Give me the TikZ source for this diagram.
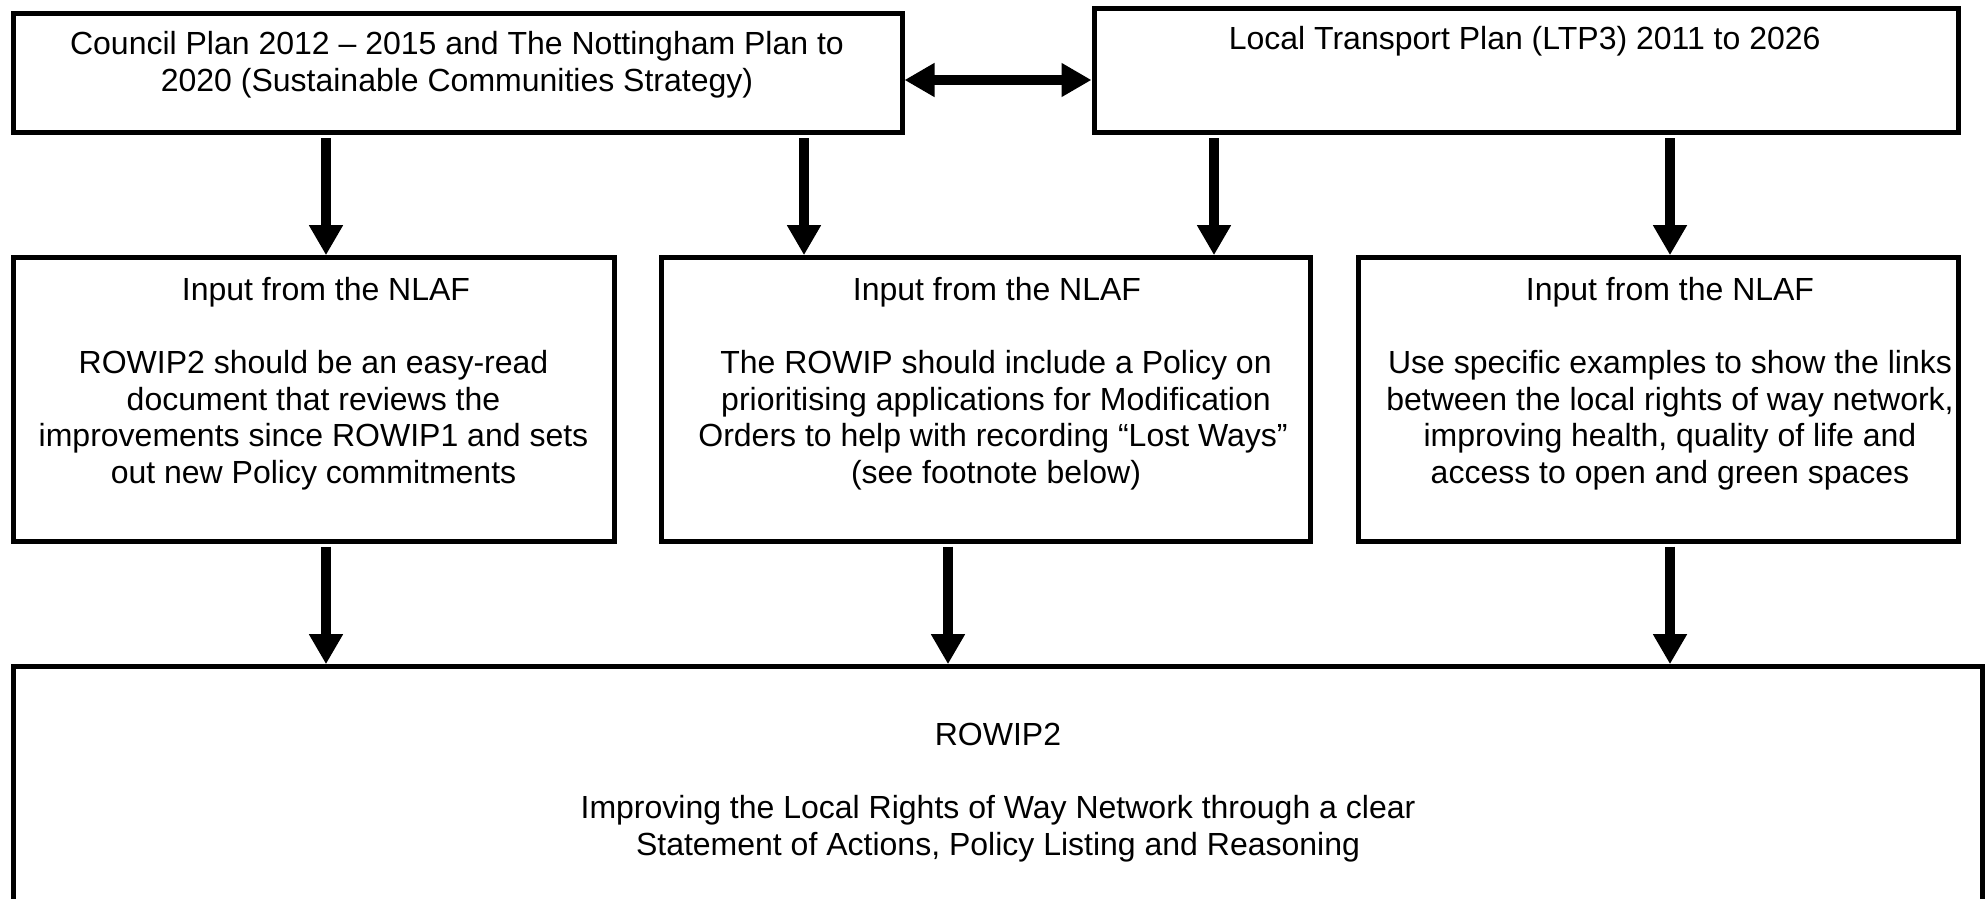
\documentclass[tikz,border=0pt]{standalone}
\usepackage{fontspec}
\setmainfont{Liberation Sans}
\usetikzlibrary{arrows.meta}
\begin{document}
\begin{tikzpicture}[x=0.5pt,y=-0.5pt,
  box/.style={draw=black, line width=2.5pt, inner sep=0pt, rectangle},
  arr/.style={line width=5pt, -{Triangle[length=15pt,width=16pt]}, shorten <=1.5pt},
  dblarr/.style={line width=5pt, {Triangle[length=15pt,width=16pt]}-{Triangle[length=15pt,width=16pt]}},
  txt/.style={anchor=base, inner sep=0pt, font=\fontsize{16pt}{18.35pt}\selectfont}]
\useasboundingbox (0,0) rectangle (1988,899);

% boxes
\node[box, minimum width=444.25pt, minimum height=59.75pt] (tl) at (457.75,73.25) {};
\node[box, minimum width=432.35pt, minimum height=62.1pt] (tr) at (1526.35,70.6) {};
\node[box, minimum width=300.35pt, minimum height=141.65pt] (ba) at (313.65,399.35) {};
\node[box, minimum width=324.5pt, minimum height=141.65pt] (bb) at (985.5,399.35) {};
\node[box, minimum width=300.35pt, minimum height=141.65pt] (bc) at (1658.35,399.35) {};
\node[box, minimum width=984.35pt, minimum height=118.15pt] (bot) at (997.65,784.85) {};

% texts
\node[txt] (tl1) at (457,55) {Council Plan 2012 – 2015 and The Nottingham Plan to};
\node[txt] (tl2) at (457,91.7) {2020 (Sustainable Communities Strategy)};
\node[txt] (tr1) at (1524.7,50) {Local Transport Plan (LTP3) 2011 to 2026};

\node[txt] (a0) at (326,300) {Input from the NLAF};
\node[txt] (a1) at (313.5,373.3) {ROWIP2 should be an easy-read};
\node[txt] (a2) at (313.5,410) {document that reviews the};
\node[txt] (a3) at (313.5,446.7) {improvements since ROWIP1 and sets};
\node[txt] (a4) at (313.5,483.3) {out new Policy commitments};

\node[txt] (b0) at (997,300) {Input from the NLAF};
\node[txt] (b1) at (996,373.3) {The ROWIP should include a Policy on};
\node[txt] (b2) at (996,410) {prioritising applications for Modification};
\node[txt] (b3) at (993,446.7) {Orders to help with recording “Lost Ways”};
\node[txt] (b4) at (996,483.3) {(see footnote below)};

\node[txt] (c0) at (1670,300) {Input from the NLAF};
\node[txt] (c1) at (1670,373.3) {Use specific examples to show the links};
\node[txt] (c2) at (1670,410) {between the local rights of way network,};
\node[txt] (c3) at (1670,446.7) {improving health, quality of life and};
\node[txt] (c4) at (1670,483.3) {access to open and green spaces};

\node[txt] (d0) at (998,745) {ROWIP2};
\node[txt] (d1) at (998,818.3) {Improving the Local Rights of Way Network through a clear};
\node[txt] (d2) at (998,855) {Statement of Actions, Policy Listing and Reasoning};

% arrow positions
\coordinate (x1) at (326,0);
\coordinate (x2) at (804,0);
\coordinate (x3) at (1214,0);
\coordinate (x4) at (1670,0);
\coordinate (x5) at (948,0);
\coordinate (ym) at (0,80);

\draw[dblarr] (tl.east |- ym) -- (tr.west |- ym);
\draw[arr] (tl.south -| x1) -- (ba.north -| x1);
\draw[arr] (tl.south -| x2) -- (bb.north -| x2);
\draw[arr] (tr.south -| x3) -- (bb.north -| x3);
\draw[arr] (tr.south -| x4) -- (bc.north -| x4);
\draw[arr] (ba.south -| x1) -- (bot.north -| x1);
\draw[arr] (bb.south -| x5) -- (bot.north -| x5);
\draw[arr] (bc.south -| x4) -- (bot.north -| x4);
\end{tikzpicture}
\end{document}
